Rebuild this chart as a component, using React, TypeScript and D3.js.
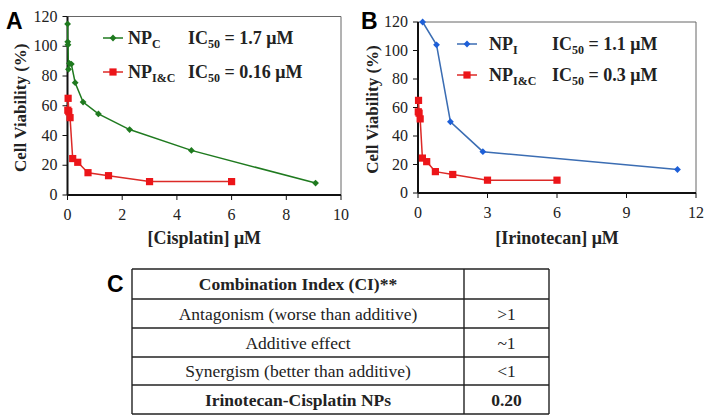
import React from "react";
import * as d3 from "d3";

// ---------- data ----------
const cisNPC_x = [0.004, 0.009, 0.018, 0.035, 0.07, 0.14, 0.28, 0.57, 1.13, 2.27, 4.53, 9.07];
const cisNPC_y = [115, 103, 101, 84.5, 88.5, 88, 75.5, 62.5, 54.5, 44, 30, 8];

const comb_x = [0.012, 0.023, 0.047, 0.094, 0.19, 0.375, 0.75, 1.5, 3, 6];
const comb_y = [57, 65, 56, 52, 24.5, 22, 15, 13, 9, 9];

const iriNPI_x = [0.2, 0.8, 1.4, 2.8, 11.2];
const iriNPI_y = [120, 104, 50, 29, 16.5];

const yTicks = [0, 20, 40, 60, 80, 100, 120];
const xTicksA = [0, 2, 4, 6, 8, 10];
const xTicksB = [0, 3, 6, 9, 12];

const tableRows = [
  { label: "Combination Index (CI)**", value: "", bold: true },
  { label: "Antagonism (worse than additive)", value: ">1", bold: false },
  { label: "Additive effect", value: "~1", bold: false },
  { label: "Synergism (better than additive)", value: "<1", bold: false },
  { label: "Irinotecan-Cisplatin NPs", value: "0.20", bold: true },
];

const GREEN = "#1f7a1f";
const RED = "#ec1519";
const RED_LINE = "#dc2a27";
const BLUE = "#1d5fd8";
const BLUE_LINE = "#3b6db3";

const SERIF = "Liberation Serif, Times New Roman, DejaVu Serif, serif";
const SANS = "Liberation Sans, Arial, sans-serif";

type Pt = [number, number];
const zip = (xs: number[], ys: number[]): Pt[] => xs.map((x, i) => [x, ys[i]]);

const serif = (size: number, bold = false): React.CSSProperties => ({
  fontFamily: SERIF, fontSize: size, fontWeight: bold ? "bold" : "normal",
});

function Marker({ x, y, kind, color }: { x: number; y: number; kind: "diamond" | "square"; color: string }) {
  if (kind === "square") {
    return <rect x={x - 3.6} y={y - 3.6} width={7.2} height={7.2} fill={color} />;
  }
  const s = 3.4;
  return <path d={`M${x},${y - s}L${x + s},${y}L${x},${y + s}L${x - s},${y}Z`} fill={color} />;
}

interface Series {
  pts: Pt[];
  line: string;
  marker: string;
  kind: "diamond" | "square";
}

function Panel({
  x0, x1, y0, y1, xMax, xTicks, series, xTitle, letter, letterX, yTitleX, legend,
}: {
  x0: number; x1: number; y0: number; y1: number; xMax: number; xTicks: number[];
  series: Series[]; xTitle: string; letter: string; letterX: number; yTitleX: number;
  legend: { lx: number; nx: number; ix: number; rows: { y: number; s: Series; np: string; ic: string }[] };
}) {
  const x = d3.scaleLinear().domain([0, xMax]).range([x0, x1]);
  const y = d3.scaleLinear().domain([0, 120]).range([y1, y0]);
  const line = d3.line<Pt>().x((d) => x(d[0])).y((d) => y(d[1]));
  return (
    <g>
      <text x={letterX} y={29} style={{ fontFamily: SANS, fontWeight: "bold", fontSize: 23 }}>{letter}</text>
      {/* frame */}
      <line x1={x0} y1={y0} x2={x1} y2={y0} stroke="#666" strokeWidth={1} />
      <line x1={x1} y1={y0} x2={x1} y2={y1} stroke="#666" strokeWidth={1} />
      <line x1={x0} y1={y0} x2={x0} y2={y1} stroke="#111" strokeWidth={2} />
      <line x1={x0} y1={y1} x2={x1} y2={y1} stroke="#111" strokeWidth={2} />
      {yTicks.map((t) => (
        <g key={"y" + t}>
          <line x1={x0 - 5} x2={x0} y1={y(t)} y2={y(t)} stroke="#111" strokeWidth={1} />
          <text x={x0 - 10} y={y(t) + 5} textAnchor="end" style={serif(16)} fill="#222">{t}</text>
        </g>
      ))}
      {xTicks.map((t) => (
        <g key={"x" + t}>
          <line x1={x(t)} x2={x(t)} y1={y1} y2={y1 + 5} stroke="#111" strokeWidth={1} />
          <text x={x(t)} y={y1 + 25} textAnchor="middle" style={serif(16)} fill="#222">{t}</text>
        </g>
      ))}
      <text
        transform={`translate(${yTitleX},${(y0 + y1) / 2 + 2}) rotate(-90)`}
        textAnchor="middle" dominantBaseline="central"
        style={serif(17, true)} fill="#222"
      >Cell Viability (%)</text>
      <text x={(x0 + x1) / 2} y={244} textAnchor="middle" style={serif(18, true)} fill="#222">{xTitle}</text>
      {series.map((s, i) => (
        <g key={i}>
          <path d={line(s.pts) || ""} fill="none" stroke={s.line} strokeWidth={1.5} />
          {s.pts.map((p, j) => (
            <Marker key={j} x={x(p[0])} y={y(p[1])} kind={s.kind} color={s.marker} />
          ))}
        </g>
      ))}
      {legend.rows.map((r, i) => (
        <g key={"lg" + i}>
          <line x1={legend.lx} x2={legend.lx + 20} y1={r.y} y2={r.y} stroke={r.s.line} strokeWidth={1.5} />
          <Marker x={legend.lx + 10} y={r.y} kind={r.s.kind} color={r.s.marker} />
          <text x={legend.nx} y={r.y + 6} style={serif(18, true)} fill="#222">
            <tspan>NP</tspan>
            <tspan style={{ fontSize: 12 }} dy={4}>{r.np}</tspan>
          </text>
          <text x={legend.ix} y={r.y + 6} style={serif(18, true)} fill="#222">
            <tspan>IC</tspan>
            <tspan style={{ fontSize: 12 }} dy={4}>50</tspan>
            <tspan dy={-4}>{` = ${r.ic} μM`}</tspan>
          </text>
        </g>
      ))}
    </g>
  );
}

function Table() {
  const left = 132, mid = 464, right = 549;
  const ys = [269, 299, 328, 357, 385, 414];
  return (
    <g>
      <text x={107} y={292} style={{ fontFamily: SANS, fontWeight: "bold", fontSize: 23 }}>C</text>
      {ys.map((yy, i) => (
        <line key={i} x1={left} x2={right} y1={yy} y2={yy} stroke="#222" strokeWidth={1.4} />
      ))}
      {[left, mid, right].map((xx, i) => (
        <line key={"v" + i} x1={xx} x2={xx} y1={ys[0]} y2={ys[ys.length - 1]} stroke="#222" strokeWidth={1.4} />
      ))}
      {tableRows.map((r, i) => {
        const cy = (ys[i] + ys[i + 1]) / 2 + 6;
        return (
          <g key={i}>
            <text x={(left + mid) / 2} y={cy} textAnchor="middle" style={serif(17.5, r.bold)} fill="#222">{r.label}</text>
            <text x={(mid + right) / 2} y={cy} textAnchor="middle" style={serif(17.5, r.bold)} fill="#222">{r.value}</text>
          </g>
        );
      })}
    </g>
  );
}

export default function App() {
  const green: Series = { pts: zip(cisNPC_x, cisNPC_y), line: GREEN, marker: GREEN, kind: "diamond" };
  const red: Series = { pts: zip(comb_x, comb_y), line: RED_LINE, marker: RED, kind: "square" };
  const blue: Series = { pts: zip(iriNPI_x, iriNPI_y), line: BLUE_LINE, marker: BLUE, kind: "diamond" };
  return (
    <div style={{ position: "absolute", left: 0, top: 0 }}>
      <svg width={708} height={420} style={{ display: "block", background: "#fff" }}>
        <Panel
          x0={67.5} x1={341} y0={16.5} y1={195} xMax={10} xTicks={xTicksA}
          series={[green, red]} xTitle="[Cisplatin] μM" letter="A" letterX={6} yTitleX={20}
          legend={{ lx: 103, nx: 128, ix: 188, rows: [
            { y: 38, s: green, np: "C", ic: "1.7" },
            { y: 72, s: red, np: "I&C", ic: "0.16" },
          ] }}
        />
        <Panel
          x0={418} x1={696} y0={22} y1={193} xMax={12} xTicks={xTicksB}
          series={[blue, red]} xTitle="[Irinotecan] μM" letter="B" letterX={361} yTitleX={372}
          legend={{ lx: 457, nx: 489, ix: 552, rows: [
            { y: 44, s: blue, np: "I", ic: "1.1" },
            { y: 75, s: red, np: "I&C", ic: "0.3" },
          ] }}
        />
        <Table />
      </svg>
    </div>
  );
}
